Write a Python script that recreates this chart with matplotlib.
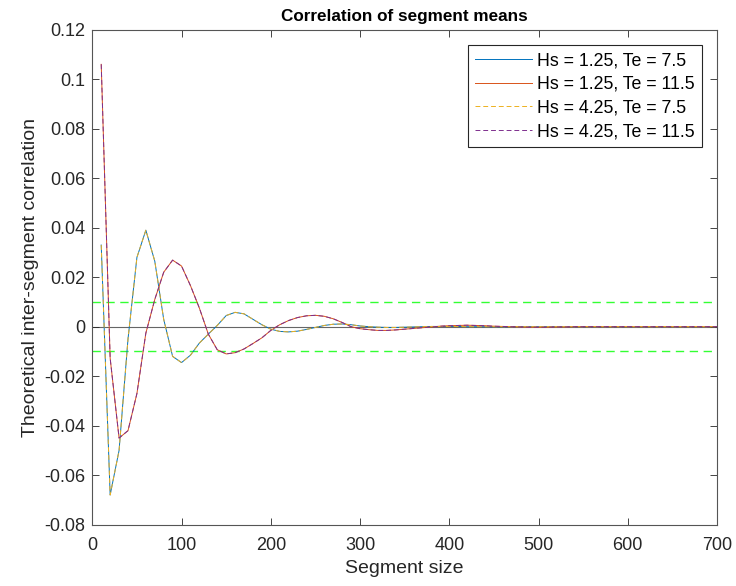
import numpy as np
import matplotlib
matplotlib.use("Agg")
import matplotlib.pyplot as plt
from matplotlib.ticker import FuncFormatter

plt.rcParams['font.family'] = ['Liberation Sans', 'DejaVu Sans']
plt.rcParams['axes.unicode_minus'] = False

# segment sizes 10, 20, ... 700
seg = np.arange(10, 701, 10)

# Te = 7.5 (same for both Hs)
corr_te75 = [0.033, -0.068, -0.050, -0.005, 0.028, 0.039, 0.0265, 0.003, -0.012, -0.0145,
             -0.0115, -0.0066, -0.003, 0.0005, 0.0045, 0.0058, 0.0052, 0.003, 0.0008, -0.001,
             -0.0019, -0.0021, -0.0018, -0.0011, -0.0003, 0.0005, 0.001, 0.0011, 0.0008, 0.0003,
             0.0, -0.0002, -0.0003, -0.0003, -0.0002, -0.0001, 0.0, 0.0001, 0.0001, 0.0001,
             0.0001, 0.0, 0.0, 0.0, 0.0, 0.0, 0.0, 0.0, 0.0, 0.0,
             0.0, 0.0, 0.0, 0.0, 0.0, 0.0, 0.0, 0.0, 0.0, 0.0,
             0.0, 0.0, 0.0, 0.0, 0.0, 0.0, 0.0, 0.0, 0.0, 0.0]

# Te = 11.5 (same for both Hs)
corr_te115 = [0.106, -0.0127, -0.045, -0.042, -0.027, -0.0026, 0.011, 0.022, 0.0269, 0.0245,
              0.0166, 0.0075, -0.003, -0.0093, -0.011, -0.0105, -0.009, -0.0068, -0.0045, -0.0015,
              0.0008, 0.0025, 0.0037, 0.0044, 0.0046, 0.0042, 0.0032, 0.0017, 0.0, -0.0008,
              -0.0012, -0.0015, -0.0015, -0.0013, -0.001, -0.0007, -0.0004, -0.0001, 0.0002, 0.0004,
              0.0005, 0.0006, 0.0005, 0.0004, 0.0002, 0.0001, 0.0, -0.0001, -0.0002, -0.0002,
              -0.0002, -0.0001, -0.0001, 0.0, 0.0, 0.0, 0.0, 0.0, 0.0, 0.0,
              0.0, 0.0, 0.0, 0.0, 0.0, 0.0, 0.0, 0.0, 0.0, 0.0]

labels = ["Hs = 1.25, Te = 7.5", "Hs = 1.25, Te = 11.5",
          "Hs = 4.25, Te = 7.5", "Hs = 4.25, Te = 11.5"]

fig = plt.figure(figsize=(7.36, 5.86), dpi=100)
ax = fig.add_axes([92.3/736, 1 - 524.7/586, (717 - 92.3)/736, (524.7 - 29.7)/586])

ax.axhline(0, color='#666666', lw=0.8, zorder=1)
ax.axhline(0.01, color='#33ff33', lw=1.0, ls=(0, (6, 4)), zorder=1)
ax.axhline(-0.01, color='#33ff33', lw=1.0, ls=(0, (6, 4)), zorder=1)

ax.plot(seg, corr_te75, color='#0072BD', lw=0.7, label=labels[0])
ax.plot(seg, corr_te115, color='#D95319', lw=0.7, label=labels[1])
ax.plot(seg, corr_te75, color='#EDB120', lw=0.7, ls=(0, (5, 3)), label=labels[2])
ax.plot(seg, corr_te115, color='#7E2F8E', lw=0.7, ls=(0, (5, 3)), label=labels[3])

ax.set_xlim(0, 700)
ax.set_ylim(-0.08, 0.12)
ax.set_xticks(np.arange(0, 701, 100))
ax.set_yticks(np.arange(-0.08, 0.121, 0.02))
ax.yaxis.set_major_formatter(FuncFormatter(lambda v, p: "%g" % round(v, 4)))
ax.tick_params(direction='in', top=True, right=True, length=5, width=0.6,
               colors='#262626', labelsize=13)
ax.tick_params(axis='x', pad=9)
ax.tick_params(axis='y', pad=5)
for s in ax.spines.values():
    s.set_color('#555555')
    s.set_linewidth(0.8)

ax.set_title("Correlation of segment means", fontsize=12.3, fontweight='bold', pad=6)
ax.set_xlabel("Segment size", fontsize=14, color='#262626', labelpad=4)
ax.set_ylabel("Theoretical inter-segment correlation", fontsize=14, color='#262626', labelpad=4)

leg = ax.legend(loc='upper right', bbox_to_anchor=(702/736, 1 - 45/586),
                bbox_transform=fig.transFigure, fontsize=12.8, handlelength=3.2,
                fancybox=False, edgecolor='#262626', framealpha=1, borderaxespad=0,
                borderpad=0.4, labelspacing=0.38, handletextpad=0.3)
leg.get_frame().set_linewidth(0.8)

plt.savefig("out.png", dpi=100)
